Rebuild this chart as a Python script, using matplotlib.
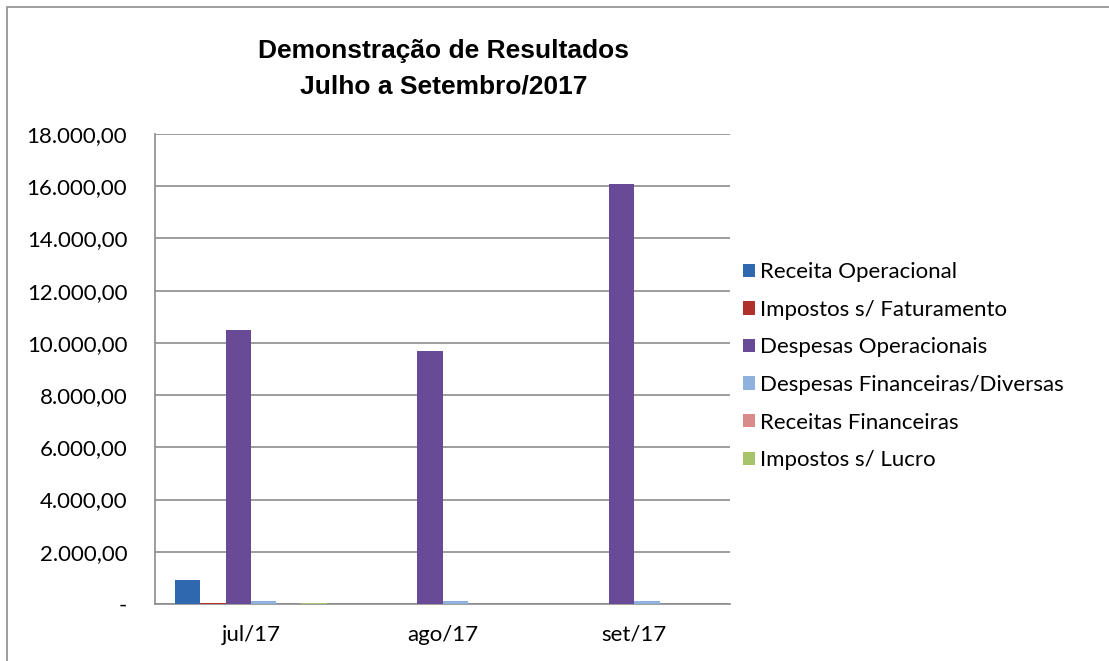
import matplotlib.pyplot as plt
import matplotlib.ticker as mticker
import numpy as np

meses = ["jul/17", "ago/17", "set/17"]
series = ["Receita Operacional", "Impostos s/ Faturamento", "Despesas Operacionais",
          "Despesas Financeiras/Diversas", "Receitas Financeiras", "Impostos s/ Lucro"]
receita_op = [920, 0, 0]
impostos_fat = [25, 0, 0]
despesas_op = [10500, 9700, 16070]
despesas_fin = [120, 110, 110]
receitas_fin = [0, 0, 0]
impostos_lucro = [20, 0, 0]
cores = ["#2F68AE", "#B0302C", "#684A96", "#8EB1DE", "#D98B8A", "#A8C46A"]

valores = [receita_op, impostos_fat, despesas_op, despesas_fin, receitas_fin, impostos_lucro]

def fmt(v, pos):
    if v == 0:
        return "-"
    s = f"{v:,.2f}"
    return s.replace(",", "X").replace(".", ",").replace("X", ".")

fig = plt.figure(figsize=(11.09, 6.61), dpi=100)
ax = fig.add_axes([0.1398, 0.0862, 0.5185, 0.7111])

x = np.arange(len(meses))
w = 0.132
for i, (nome, vals) in enumerate(zip(series, valores)):
    ax.bar(x + (i - 2.5) * w, vals, w, color=cores[i], label=nome,
           edgecolor="none", zorder=3)

ax.set_xlim(-0.5, 2.5)
ax.set_ylim(0, 18000)
ax.set_yticks(np.arange(0, 18001, 2000))
ax.yaxis.set_major_formatter(mticker.FuncFormatter(fmt))
ax.set_xticks(x)
ax.set_xticklabels(meses)
ax.grid(axis="y", color="#8c8c8c", linewidth=1.2, zorder=0)
for s in ["top", "right"]:
    ax.spines[s].set_visible(False)
for s in ["left", "bottom"]:
    ax.spines[s].set_color("#8c8c8c")
    ax.spines[s].set_linewidth(1.2)
ax.tick_params(axis="both", length=0, labelsize=16)
ax.tick_params(axis="y", pad=20)
ax.tick_params(axis="x", pad=15)
for lab in ax.get_xticklabels() + ax.get_yticklabels():
    lab.set_fontfamily("Lato")

fig.text(0.40, 0.896, "Demonstração de Resultados\nJulho a Setembro/2017",
         ha="center", va="center", fontsize=19, fontweight="bold",
         family="Liberation Sans", linespacing=1.6)

leg = fig.legend(loc="center left", bbox_to_anchor=(0.652, 0.446), frameon=False,
                 prop={"family": "Lato", "size": 16}, handlelength=0.55,
                 handleheight=0.55, handletextpad=0.2, labelspacing=0.79)

# borda do gráfico
fig.add_artist(plt.Rectangle((7 / 1109, -0.1), 1.2, 1.1 - 7 / 661,
                             transform=fig.transFigure, fill=False,
                             edgecolor="#8c8c8c", linewidth=1.2))

fig.savefig("out.png", dpi=100)
